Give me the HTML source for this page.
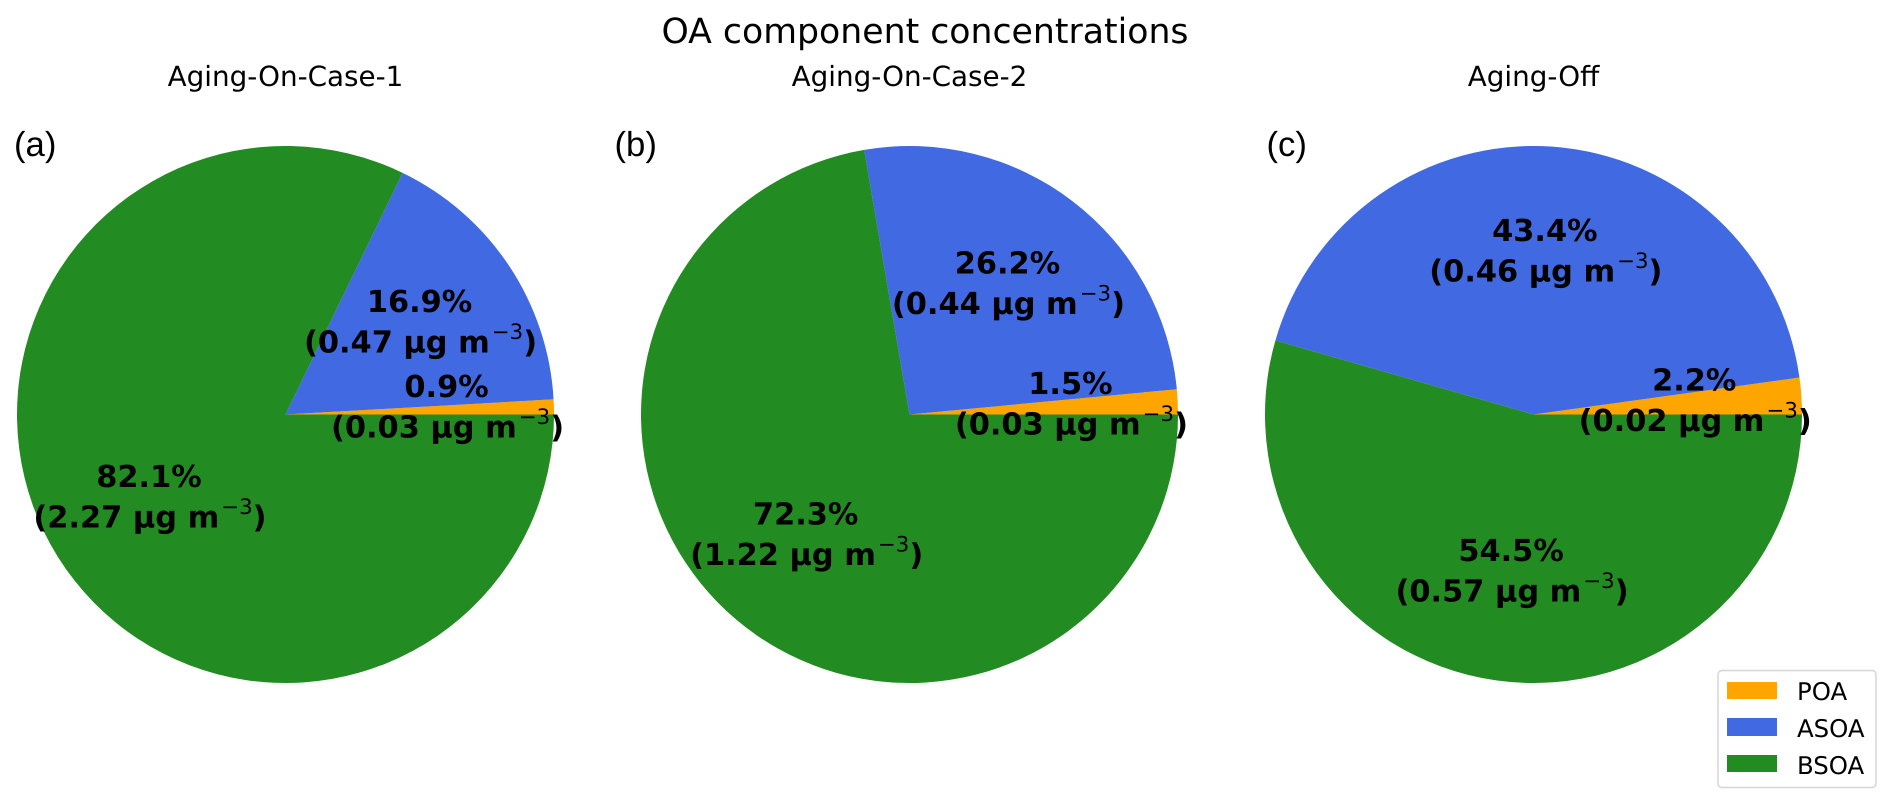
<!DOCTYPE html>
<html lang="en">
<head>
<meta charset="utf-8">
<title>OA component concentrations</title>
<style>
html,body{margin:0;padding:0;background:#fff;width:1894px;height:805px;overflow:hidden}
svg{display:block}
text{font-family:"DejaVu Sans","Liberation Sans",sans-serif;fill:#000;text-rendering:geometricPrecision}
</style>
</head>
<body>
<svg id="chart" xmlns="http://www.w3.org/2000/svg" width="1894" height="805" viewBox="0 0 1894 805">
  <text x="925" y="43" font-size="34.7" text-anchor="middle">OA component concentrations</text>
  <g id="panels"></g>
  <g>
    <rect x="1718" y="670.5" width="158" height="117" rx="4" fill="#fff" stroke="#d6d6d6" stroke-width="1.5"/>
    <rect x="1727" y="682" width="50" height="17" fill="#ffa500"/>
    <text x="1797" y="700" font-size="24.4">POA</text>
    <rect x="1727" y="718" width="50" height="18" fill="#4169e1"/>
    <text x="1797" y="737" font-size="24.4">ASOA</text>
    <rect x="1727" y="755" width="50" height="17" fill="#228b22"/>
    <text x="1797" y="774" font-size="24.4">BSOA</text>
  </g>
</svg>
<script>
const panelTitles = ["Aging-On-Case-1", "Aging-On-Case-2", "Aging-Off"];
const panelLetters = ["(a)", "(b)", "(c)"];
const components = ["poa", "asoa", "bsoa"];
const percentA = [0.9, 16.9, 82.1];
const percentB = [1.5, 26.2, 72.3];
const percentC = [2.2, 43.4, 54.5];
const concA = ["0.03", "0.47", "2.27"];
const concB = ["0.03", "0.44", "1.22"];
const concC = ["0.02", "0.46", "0.57"];

const NS = "http://www.w3.org/2000/svg";
const root = document.getElementById("panels");
const layout = [
  {cx: 285.5, letterX: 14, percents: percentA, concs: concA},
  {cx: 909.5, letterX: 614.5, percents: percentB, concs: concB},
  {cx: 1533.5, letterX: 1266.5, percents: percentC, concs: concC}
];
const colors = {poa: "#ffa500", asoa: "#4169e1", bsoa: "#228b22"};
const cy = 414.5, radius = 268.5;

function angleScale(fraction) { return fraction * 2 * Math.PI; }
function polarX(cx, angle, r) { return cx + r * Math.cos(angle); }
function polarY(angle, r) { return cy - r * Math.sin(angle); }
function addText(parent, x, y, size, anchor, weight, content) {
  const t = document.createElementNS(NS, "text");
  t.setAttribute("x", x);
  t.setAttribute("y", y);
  t.setAttribute("font-size", size);
  t.setAttribute("text-anchor", anchor);
  t.setAttribute("font-weight", weight);
  t.textContent = content;
  parent.appendChild(t);
  return t;
}

layout.forEach(function (panel, p) {
  const g = document.createElementNS(NS, "g");
  
  
  root.appendChild(g);

  const title = addText(g, panel.cx, 86, 27.8, "middle", "normal", panelTitles[p]);
  
  

  const letter = addText(g, panel.letterX, 156, 34.7, "start", "normal", panelLetters[p]);
  letter.setAttribute("style", "font-family:'Liberation Sans',sans-serif");
  
  

  const total = panel.percents.reduce(function (a, b) { return a + b; }, 0);
  let cum = 0;
  const labels = [];
  panel.percents.forEach(function (v, i) {
    const a0 = angleScale(cum / total);
    const a1 = angleScale((cum + v) / total);
    const large = (a1 - a0) > Math.PI ? 1 : 0;
    const d = "M" + panel.cx + " " + cy +
      "L" + polarX(panel.cx, a0, radius) + " " + polarY(a0, radius) +
      "A" + radius + " " + radius + " 0 " + large + " 0 " +
      polarX(panel.cx, a1, radius) + " " + polarY(a1, radius) + "Z";
    const wedge = document.createElementNS(NS, "path");
    wedge.setAttribute("d", d);
    wedge.setAttribute("fill", colors[components[i]]);
    
    
    g.appendChild(wedge);
    labels.push({mid: (a0 + a1) / 2, v: v, conc: panel.concs[i], name: components[i]});
    cum += v;
  });

  labels.forEach(function (l) {
    const x = polarX(panel.cx, l.mid, radius * 0.6);
    const y = polarY(l.mid, radius * 0.6);
    const lg = document.createElementNS(NS, "g");
    
    
    g.appendChild(lg);

    addText(lg, x, y - 13, 30.4, "middle", "bold", l.v.toFixed(1) + "%");
    const line2 = addText(lg, x + 1, y + 27.5, 30.4, "middle", "bold", "(" + l.conc + " µg m");
    const sup = document.createElementNS(NS, "tspan");
    sup.setAttribute("font-weight", "normal");
    sup.setAttribute("font-size", "21.3");
    sup.setAttribute("dy", "-13.5");
    sup.setAttribute("dx", "2");
    sup.textContent = "−3";
    line2.appendChild(sup);
    const close = document.createElementNS(NS, "tspan");
    close.setAttribute("dy", "13.5");
    close.textContent = ")";
    line2.appendChild(close);
  });
});
</script>
</body>
</html>
